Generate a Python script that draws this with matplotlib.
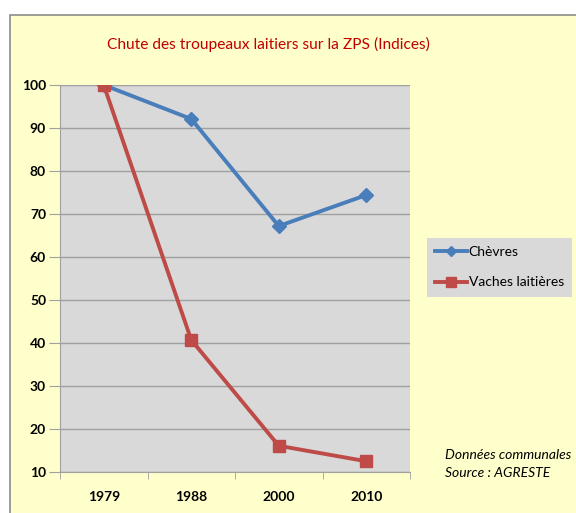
import matplotlib
matplotlib.use("Agg")
import matplotlib.pyplot as plt
from matplotlib.patches import Rectangle

years = ["1979", "1988", "2000", "2010"]
chevres = [100, 92.1, 67.2, 74.4]
vaches = [100, 40.7, 16.1, 12.5]
yticks = [10, 20, 30, 40, 50, 60, 70, 80, 90, 100]

plt.rcParams['font.family'] = ['Lato', 'DejaVu Sans']

W, H = 576, 513
fig = plt.figure(figsize=(W/100, H/100), dpi=100)
fig.patch.set_facecolor('white')
fig.patches.append(Rectangle((10/W, -0.01), 1.0, 1 - 15/H + 0.01, transform=fig.transFigure,
                             facecolor='#FFFFCC', edgecolor='#8C8C8C', linewidth=1.2, zorder=-5))

ax = fig.add_axes([60/W, 41/H, 350/W, 387/H])
ax.set_zorder(1)
ax.set_facecolor('#D9D9D9')
x = list(range(len(years)))
ax.plot(x, chevres, color='#4A7EBB', lw=2.8, marker='D', ms=7, label='Chèvres', zorder=3)
ax.plot(x, vaches, color='#BE4B48', lw=2.8, marker='s', ms=9, label='Vaches laitières', zorder=3)

ax.set_xlim(-0.5, 3.5)
ax.set_ylim(10, 100)
ax.set_yticks(yticks)
ax.set_yticklabels([str(v) for v in yticks], fontweight='bold', fontsize=10)
ax.set_xticks(x)
ax.set_xticklabels(years, fontweight='bold', fontsize=10)
ax.tick_params(axis='x', length=0, pad=14)
ax.set_xticks([-0.5, 0.5, 1.5, 2.5, 3.5], minor=True)
ax.tick_params(axis='x', which='minor', length=5, color='#A0A0A0', direction='out')
ax.tick_params(axis='y', length=8, color='#A0A0A0', pad=2)
ax.grid(axis='y', color='#A0A0A0', lw=1)
ax.set_axisbelow(True)
for s in ['top', 'right']:
    ax.spines[s].set_visible(False)
for s in ['left', 'bottom']:
    ax.spines[s].set_color('#A0A0A0')

fig.text(268/W, 1 - 44/H, "Chute des troupeaux laitiers sur la ZPS (Indices)", color='#C00000',
         fontsize=11.2, ha='center', va='center')

leg = fig.legend(loc='upper left', bbox_to_anchor=(427/W, 1 - 238/H), frameon=True,
                 fontsize=10, handlelength=2.3, borderpad=0.6, labelspacing=1.3, handletextpad=0.1,
                 fancybox=False, borderaxespad=0, markerscale=0.75)
leg.get_frame().set_facecolor('#D9D9D9')
leg.get_frame().set_edgecolor('none')
leg.get_frame().set_alpha(1)

fig.text(445/W, 1 - 455/H, "Données communales", style='italic', fontsize=10, va='center', ha='left')
fig.text(445/W, 1 - 473/H, "Source : AGRESTE", style='italic', fontsize=10, va='center', ha='left')

fig.savefig('out.png', dpi=100)
